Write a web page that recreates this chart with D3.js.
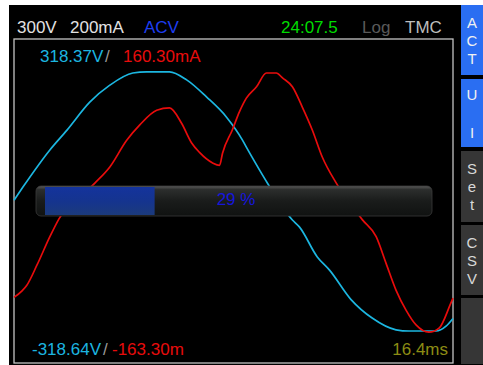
<!DOCTYPE html>
<html>
<head>
<meta charset="utf-8">
<script src="https://cdn.jsdelivr.net/npm/d3@7"></script>
<style>
  body { margin: 0; background: #fff; }
  svg { display: block; }
  text { font-family: "Liberation Sans", Arial, sans-serif; }
</style>
</head>
<body>
<svg width="483" height="365"></svg>
<script>
// data (time in ms, voltage in V, current in mA)
var voltTime = [0, 0.34, 1.34, 1.98, 2.83, 3.58, 4.44, 4.96, 5.81, 6.45, 7.19, 7.94, 8.53, 8.68, 9.17, 9.47,
                10.40, 10.66, 11.33, 11.78, 12.60, 13.38, 14.27, 14.76, 15.77, 16.14, 16.40];
var voltVals = [2, 35, 126, 175, 244, 286, 316, 319, 319, 299, 257, 207, 151, 133, 77, 44,
                -47, -64, -138, -170, -244, -289, -318, -321, -321, -309, -290];

var currTime = [0, 0.30, 0.48, 0.86, 1.34, 1.68, 3.02, 3.58, 4.21, 4.70, 5.33, 5.81, 6.26, 6.63, 6.93, 7.42,
                7.68, 7.79, 8.16, 8.42, 8.68, 9.06, 9.43, 9.80, 10.03, 10.40, 10.77, 11.14, 11.52, 12.04,
                13.01, 13.53, 13.90, 14.27, 14.65, 15.02, 15.50, 15.88, 16.32, 16.40];
var currVals = [-119, -111, -104, -79, -44, -22, 22, 42, 75, 94, 112, 115, 96, 72, 60, 47,
                44, 59, 88, 110, 127, 141, 158, 158, 152, 141, 116, 88, 54, 22,
                -23, -44, -77, -110, -135, -153, -162, -157, -126, -120];

var headerLeft = ["300V", "200mA"];
var headerMode = "ACV";
var clockText = "24:07.5";
var logText = "Log";
var tmcText = "TMC";
var maxLabels = ["318.37V", "160.30mA"];
var minLabels = ["-318.64V", "-163.30m"];
var spanText = "16.4ms";
var progress = 29;
var buttons = [
  { lines: ["A", "C", "T"], active: true },
  { lines: ["U", "", "I"], active: true },
  { lines: ["S", "e", "t"], active: false },
  { lines: ["C", "S", "V"], active: false },
  { lines: [], active: false }
];

var svg = d3.select("svg");

// screen background
svg.append("rect").attr("x", 9).attr("y", 5).attr("width", 474).attr("height", 360).attr("fill", "#000");

var x = d3.scaleLinear().domain([0, 16.4]).range([14, 453]);
var yV = d3.scaleLinear().domain([-400, 400]).range([363, 39]);
var yI = d3.scaleLinear().domain([-200, 200]).range([363, 39]);

// plot frame
svg.append("rect").attr("x", 14).attr("y", 39).attr("width", 439).attr("height", 324)
  .attr("fill", "none").attr("stroke", "#c4c4c4").attr("stroke-width", 1.3);

// traces
var voltLine = d3.line().curve(d3.curveMonotoneX)
  .x(function (d, i) { return x(voltTime[i]); }).y(function (d) { return yV(d); });
var currLine = d3.line().curve(d3.curveMonotoneX)
  .x(function (d, i) { return x(currTime[i]); }).y(function (d) { return yI(d); });

svg.append("path").attr("d", voltLine(voltVals)).attr("fill", "none")
  .attr("stroke", "#1cb6e0").attr("stroke-width", 1.7).attr("stroke-linejoin", "round");
svg.append("path").attr("d", currLine(currVals)).attr("fill", "none")
  .attr("stroke", "#e80c0c").attr("stroke-width", 1.7).attr("stroke-linejoin", "round");

// header
var hdr = svg.append("g").attr("font-size", 17);
hdr.append("text").attr("x", 17).attr("y", 33).attr("fill", "#e2e2e2").text(headerLeft[0]);
hdr.append("text").attr("x", 70).attr("y", 33).attr("fill", "#e2e2e2").text(headerLeft[1]);
hdr.append("text").attr("x", 144).attr("y", 33).attr("fill", "#1e3ef0").text(headerMode);
hdr.append("text").attr("x", 281).attr("y", 33).attr("fill", "#00dc00").text(clockText);
hdr.append("text").attr("x", 362).attr("y", 33).attr("fill", "#5a5a5a").text(logText);
hdr.append("text").attr("x", 405).attr("y", 33).attr("fill", "#bdbdbd").text(tmcText);

// peak labels
var lab = svg.append("g").attr("font-size", 17);
lab.append("text").attr("x", 40).attr("y", 62).attr("fill", "#1cb6e0").text(maxLabels[0]);
lab.append("text").attr("x", 105).attr("y", 62).attr("fill", "#9a9a9a").text("/");
lab.append("text").attr("x", 123).attr("y", 62).attr("fill", "#e80c0c").text(maxLabels[1]);
lab.append("text").attr("x", 32).attr("y", 355).attr("fill", "#1cb6e0").text(minLabels[0]);
lab.append("text").attr("x", 103).attr("y", 355).attr("fill", "#9a9a9a").text("/");
lab.append("text").attr("x", 112).attr("y", 355).attr("fill", "#e80c0c").text(minLabels[1]);
lab.append("text").attr("x", 448).attr("y", 355).attr("text-anchor", "end").attr("fill", "#8c8c14").text(spanText);

// progress bar
var defs = svg.append("defs");
var gBar = defs.append("linearGradient").attr("id", "barBg").attr("x1", 0).attr("y1", 0).attr("x2", 0).attr("y2", 1);
gBar.append("stop").attr("offset", "0%").attr("stop-color", "#5a5a5a");
gBar.append("stop").attr("offset", "12%").attr("stop-color", "#2c2e2d");
gBar.append("stop").attr("offset", "50%").attr("stop-color", "#1a1c1b");
gBar.append("stop").attr("offset", "100%").attr("stop-color", "#101211");
var gFill = defs.append("linearGradient").attr("id", "barFill").attr("x1", 0).attr("y1", 0).attr("x2", 0).attr("y2", 1);
gFill.append("stop").attr("offset", "0%").attr("stop-color", "#14339c");
gFill.append("stop").attr("offset", "50%").attr("stop-color", "#15348f");
gFill.append("stop").attr("offset", "100%").attr("stop-color", "#1c3b7c");

var barX = 36, barW = 396, pad = 9;
var px = d3.scaleLinear().domain([0, 100]).range([0, barW - 2 * pad]);
svg.append("rect").attr("x", barX).attr("y", 186).attr("width", barW).attr("height", 30)
  .attr("rx", 5).attr("fill", "url(#barBg)").attr("stroke", "#3a3a3a").attr("stroke-width", 0.8);
svg.append("rect").attr("x", barX + pad).attr("y", 187).attr("width", px(progress)).attr("height", 28)
  .attr("fill", "url(#barFill)");
svg.append("text").attr("x", barX + barW / 2 + 2).attr("y", 205).attr("text-anchor", "middle")
  .attr("font-size", 17).attr("fill", "#1616dc").text(progress + " %");

// side buttons
var btnTops = [5, 79, 151, 225, 298];
var btnBottoms = [75, 147, 222, 295, 364];
var side = svg.append("g").selectAll("g").data(buttons).enter().append("g");
side.append("rect").attr("x", 461).attr("width", 22)
  .attr("y", function (d, i) { return btnTops[i]; })
  .attr("height", function (d, i) { return btnBottoms[i] - btnTops[i]; })
  .attr("fill", function (d) { return d.active ? "#2a6ef2" : "#363636"; });
side.each(function (d, i) {
  var g = d3.select(this);
  d.lines.forEach(function (ch, j) {
    var base = (i === 1) ? btnTops[i] + 21 + j * 19 : btnTops[i] + 23 + j * 18;
    g.append("text").attr("x", 472).attr("y", base).attr("text-anchor", "middle")
      .attr("font-size", 15).attr("fill", d.active ? "#f0f0f0" : "#d8d8d8").text(ch);
  });
});
</script>
</body>
</html>
